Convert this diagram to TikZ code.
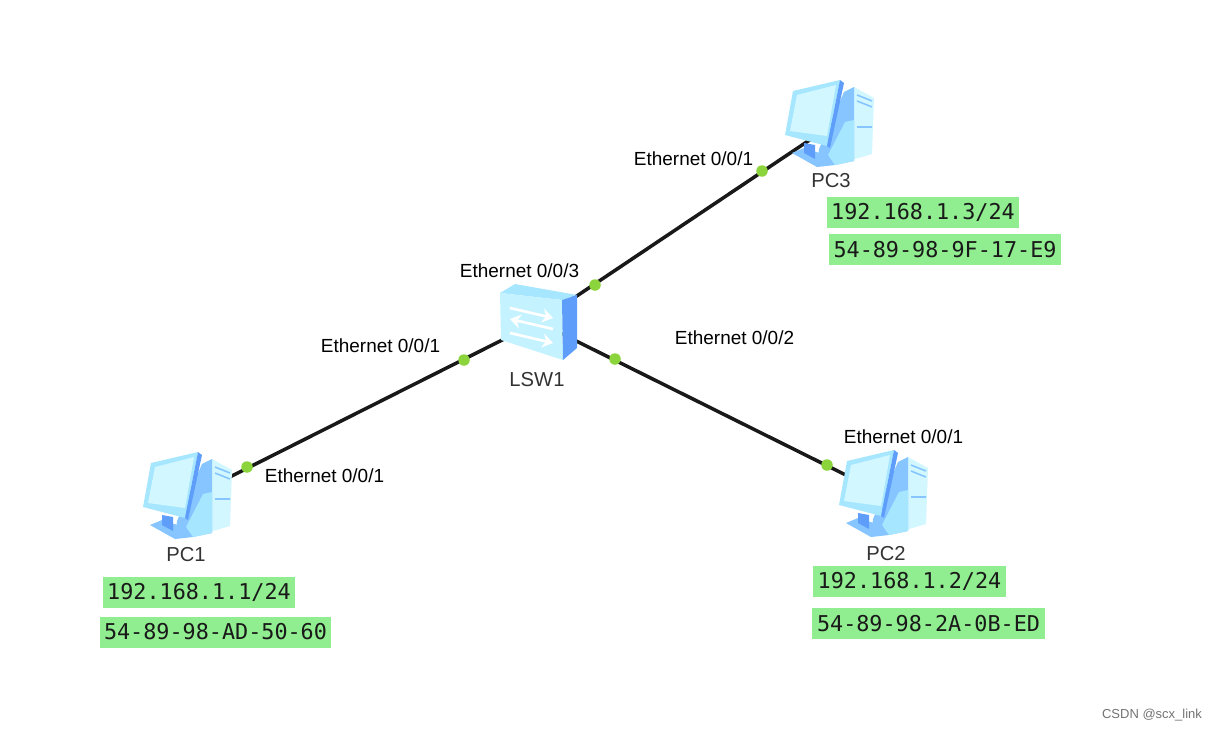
\documentclass[tikz,border=0pt]{standalone}
\usepackage{fontspec}
\setmainfont{Liberation Sans}
\newfontfamily\addrfont{DejaVu Sans Mono}
\usetikzlibrary{arrows.meta}
\definecolor{addrgreen}{HTML}{90EE90}
\definecolor{portgreen}{HTML}{8CD43C}
\definecolor{iconpale}{HTML}{D2F7FF}
\definecolor{iconlight}{HTML}{A6E6FF}
\definecolor{iconmid}{HTML}{86C5FF}
\definecolor{icondark}{HTML}{5E9EFA}

\begin{document}
\begin{tikzpicture}[
  x=0.02cm,y=-0.02cm,
  >=Stealth,
  hub/.style={inner sep=0pt,minimum size=2pt},
  link/.style={line width=2pt,draw=black!90},
  port/.style={circle,fill=portgreen,inner sep=0pt,minimum size=0.23cm},
  portlabel/.style={font=\fontsize{10.8}{12}\selectfont,inner sep=0pt},
  devlabel/.style={font=\fontsize{11.5}{13}\selectfont,inner sep=0pt,text=black!80},
  addr/.style={fill=addrgreen,font=\addrfont\fontsize{12.4}{14}\selectfont,inner sep=0pt,
    minimum height=0.62cm,text=black!90},
  swarrow/.style={white,line width=1.5pt,-{Stealth[length=6pt,width=8pt]}},
  pcicon/.pic={
    % tower
    \fill[iconpale] (12,-33) -- (22,-38) -- (42,-27) -- (40,29) -- (3,40) -- cycle;
    \fill[iconmid] (12,-33) -- (22,-38) -- (22,36) -- (3,40) -- (-15,42) -- (-13,24) -- cycle;
    \fill[iconlight] (13,-3) -- (22,-5) -- (22,36) -- (3,40) -- (-4,30) -- cycle;
    \draw[iconmid,line width=0.9pt] (25,-30) -- (40,-24) (25,-24) -- (40,-18) (25,2) -- (40,2);
    % stand
    \fill[iconmid] (-40,28) -- (-28,23) -- (-3,31) -- (-15,42) -- cycle;
    \fill[icondark] (-28,18) -- (-17,20) -- (-17,34) -- (-28,28) -- cycle;
    % monitor
    \fill[iconlight] (-39,-34) -- (8,-45) -- (-5,21) -- (-47,10) -- cycle;
    \fill[icondark] (8,-45) -- (12,-42) -- (-2,23) -- (-5,21) -- cycle;
    \fill[iconpale] (-35,-30) -- (4,-40) -- (-5,11) -- (-42,6) -- cycle;
  },
  switchicon/.pic={
    \fill[iconlight] (-38,-29) -- (-23,-38) -- (39,-27) -- (24,-22) -- cycle;
    \fill[iconpale!70!iconlight] (-38,-29) -- (24,-22) -- (25,38) -- (-37,18) -- cycle;
    \fill[icondark] (24,-22) -- (39,-27) -- (39,26) -- (25,38) -- cycle;
    \draw[swarrow] (-28,-14) -- (15,-4);
    \draw[swarrow] (15,7) -- (-28,-3);
    \draw[swarrow] (-28,11) -- (15,21);
  }
]
  \useasboundingbox (0,0) rectangle (1216,730);

  \node[hub] (pc1) at (190,497) {};
  \node[hub] (pc2) at (886,495) {};
  \node[hub] (pc3) at (832,125) {};
  \node[hub] (lsw1) at (538,322) {};

  \draw[link] (pc1) -- (lsw1);
  \draw[link] (pc2) -- (lsw1);
  \draw[link] (pc3) -- (lsw1);

  \pic at (pc1) {pcicon};
  \pic at (pc2) {pcicon};
  \pic at (pc3) {pcicon};
  \pic at (lsw1) {switchicon};

  \node[port] (p1a) at (247,467) {};
  \node[port] (p1b) at (464,360) {};
  \node[port] (p3a) at (595,285) {};
  \node[port] (p3b) at (762,171) {};
  \node[port] (p2a) at (615,359) {};
  \node[port] (p2b) at (827,465) {};

  \node[portlabel] (e1) at (324.5,476) {Ethernet 0/0/1};
  \node[portlabel] (e2) at (380.5,346) {Ethernet 0/0/1};
  \node[portlabel] (e3) at (519.5,271) {Ethernet 0/0/3};
  \node[portlabel] (e4) at (693.5,159) {Ethernet 0/0/1};
  \node[portlabel] (e5) at (734.5,338) {Ethernet 0/0/2};
  \node[portlabel] (e6) at (903.5,437) {Ethernet 0/0/1};

  \node[devlabel] (t1) at (186,555) {PC1};
  \node[devlabel] (t2) at (886,554) {PC2};
  \node[devlabel] (t3) at (831,181) {PC3};
  \node[devlabel] (t4) at (537,380) {LSW1};

  \node[addr,minimum width=3.84cm] (ip1) at (199,592) {192.168.1.1/24};
  \node[addr,minimum width=4.62cm] (mac1) at (215.5,632) {54-89-98-AD-50-60};
  \node[addr,minimum width=3.86cm] (ip2) at (909.5,581.5) {192.168.1.2/24};
  \node[addr,minimum width=4.66cm] (mac2) at (928.5,623.5) {54-89-98-2A-0B-ED};
  \node[addr,minimum width=3.84cm] (ip3) at (923,212.5) {192.168.1.3/24};
  \node[addr,minimum width=4.64cm] (mac3) at (945,249.5) {54-89-98-9F-17-E9};

  \node[font=\fontsize{7.4}{10}\selectfont,text=black!55,inner sep=0pt] (mark) at (1152,715) {CSDN @scx\_link};
\end{tikzpicture}
\end{document}
